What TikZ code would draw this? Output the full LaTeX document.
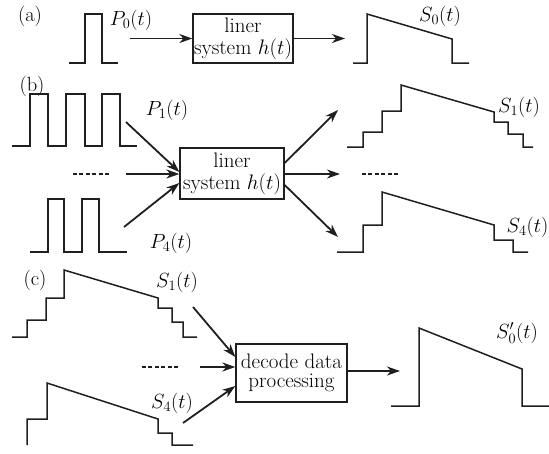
\RequirePackage{fix-cm}
\documentclass[tikz,border=0pt]{standalone}
\usetikzlibrary{arrows.meta}
\begin{document}
\begin{tikzpicture}[x=1pt,y=-1pt,
  ink/.style={draw=black!88},
  wave/.style={ink,line width=1.5pt,line join=miter},
  sysbox/.style={ink,line width=1.3pt,inner sep=0pt,align=center,
    font=\fontsize{21}{23}\selectfont},
  flow/.style={ink,line width=1.8pt,-{Stealth[length=13pt,width=9pt,inset=4pt]}},
  gap/.style={ink,line width=1.7pt,dash pattern=on 4pt off 2.4pt},
  lbl/.style={inner sep=0pt,font=\fontsize{20.5}{23}\selectfont}]
\useasboundingbox (0,0) rectangle (549,453);

% ---------------- (a) single pulse through the system
\node[lbl] (ta) at (30,16) {(a)};
\draw[wave] (69,63) -- (85,63) -- (85,14) -- (102,14) -- (102,63) -- (118,63);
\node[lbl] (p0) at (131,20) {$P_0(t)$};
\node[sysbox,minimum width=100pt,minimum height=49pt] (ba) at (243,38.5)
  {liner\\[-1pt]system $h(t)$};
\coordinate (ain) at (130,38.5);
\coordinate (aout) at (345,38.5);
\draw[flow] (ain) -- (ba.west);
\draw[flow] (ba.east) -- (aout);
\draw[wave] (353,63) -- (367,63) -- (367,14) -- (452,39) -- (452,63) -- (469,63);
\node[lbl] (s0) at (440,16) {$S_0(t)$};

% ---------------- (b) pulse trains through the system
\node[lbl] (tb) at (32,86) {(b)};
\draw[wave] (12,146) -- (30,146) -- (30,94) -- (48,94) -- (48,146) -- (66,146)
  -- (66,94) -- (85,94) -- (85,146) -- (102,146) -- (102,94) -- (120,94)
  -- (120,146) -- (137,146);
\draw[wave] (30,252) -- (48,252) -- (48,199) -- (64,199) -- (64,252) -- (82,252)
  -- (82,199) -- (99,199) -- (99,252) -- (127,252);
\node[lbl] (p1) at (167,110) {$P_1(t)$};
\node[lbl] (p4) at (171,243) {$P_4(t)$};
\draw[gap] (73,174) -- (111,174);
\node[sysbox,minimum width=104pt,minimum height=51pt] (bb) at (232,173.5)
  {liner\\[-1pt]system $h(t)$};
\coordinate (bin1) at (126,122);
\coordinate (bin2) at (126,174);
\coordinate (bin3) at (124,227);
\draw[flow] (bin1) -- ([yshift=1.5pt]bb.west);
\draw[flow] (bin2) -- ([yshift=-0.5pt]bb.west);
\draw[flow] (bin3) -- ([yshift=-9.5pt]bb.west);
\coordinate (bout1) at (338,110);
\coordinate (bout2) at (340,174);
\coordinate (bout3) at (338,237);
\draw[flow] ([yshift=10.5pt]bb.east) -- (bout1);
\draw[flow] ([yshift=-0.5pt]bb.east) -- (bout2);
\draw[flow] ([yshift=-11.5pt]bb.east) -- (bout3);
\draw[gap] (362,174) -- (400,174);
\draw[wave] (347,147) -- (363,147) -- (363,132) -- (382,132) -- (382,111) -- (401,111)
  -- (401,85) -- (494,112) -- (494,122) -- (508,122) -- (508,134) -- (523,134)
  -- (523,147) -- (533,147);
\node[lbl] (s1) at (519,107) {$S_1(t)$};
\draw[wave] (337,252) -- (363,252) -- (363,225) -- (382,225) -- (382,192)
  -- (494,225) -- (494,240) -- (513,240) -- (513,252) -- (528,252);
\node[lbl,anchor=east] (s4) at (548.5,227) {$S_4(t)$};

% ---------------- (c) decoding the responses
\node[lbl] (tc) at (35,280) {(c)};
\draw[wave] (12,337) -- (27,337) -- (27,320) -- (46,320) -- (46,298) -- (64,298)
  -- (64,270) -- (158,298) -- (158,308) -- (172,308) -- (172,322) -- (183,322)
  -- (183,337) -- (197,337);
\node[lbl] (cs1) at (177,282) {$S_1(t)$};
\draw[wave] (27,445) -- (27,419) -- (47,419) -- (47,383) -- (158,419) -- (158,433)
  -- (172,433) -- (172,445) -- (193,445);
\node[lbl] (cs4) at (172,403) {$S_4(t)$};
\draw[gap] (142,367) -- (179,367);
\node[sysbox,minimum width=111pt,minimum height=58pt] (bc) at (291.5,373)
  {decode data\\[-4pt]processing};
\coordinate (cin1) at (193,307);
\coordinate (cin2) at (200,367);
\coordinate (cin3) at (183,423);
\draw[flow] (cin1) -- ([yshift=16pt]bc.west);
\draw[flow] (cin2) -- ([yshift=6pt]bc.west);
\draw[flow] (cin3) -- ([yshift=-13pt]bc.west);
\coordinate (cout) at (400,371);
\draw[flow] ([yshift=2pt]bc.east) -- (cout);
\draw[wave] (391,406) -- (419,406) -- (419,328) -- (522,369) -- (522,406) -- (549,406);
\node[lbl] (s0p) at (517,333) {$S_0'(t)$};
\end{tikzpicture}
\end{document}
